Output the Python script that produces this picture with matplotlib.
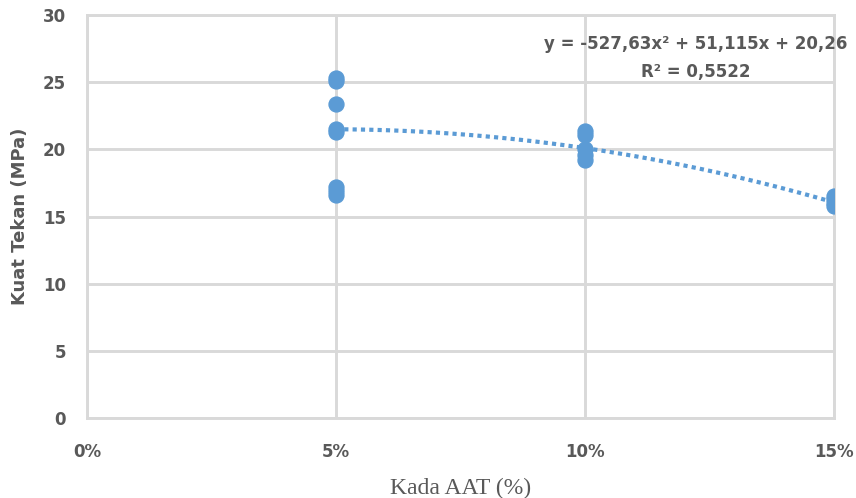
import numpy as np
import matplotlib.pyplot as plt

# data
x_5 = [0.05] * 8
y_5 = [25.3, 25.1, 23.4, 21.5, 21.3, 17.2, 16.9, 16.6]
x_10 = [0.10] * 5
y_10 = [21.4, 21.1, 20.0, 19.6, 19.2]
x_15 = [0.15] * 4
y_15 = [16.5, 16.3, 16.0, 15.8]

coef = [-527.63, 51.115, 20.26]
x_ticks = [0, 0.05, 0.10, 0.15]
x_ticklabels = ['0%', '5%', '10%', '15%']
y_ticks = [0, 5, 10, 15, 20, 25, 30]
y_ticklabels = ['0', '5', '10', '15', '20', '25', '30']

xs = np.array(x_5 + x_10 + x_15)
ys = np.array(y_5 + y_10 + y_15)

fig = plt.figure(figsize=(8.56, 4.98), dpi=100)
ax = fig.add_axes([0.1016, 0.1606, 0.8725, 0.8092])

grid_c = '#d9d9d9'
ax.set_axisbelow(True)
ax.grid(True, color=grid_c, linewidth=2.1)
for s in ax.spines.values():
    s.set_color(grid_c)
    s.set_linewidth(2.1)

ax.scatter(xs, ys, s=115, color='#5b9bd5', zorder=3)

xt = np.linspace(0.05, 0.15, 100)
yt = np.polyval(coef, xt)
ax.plot(xt, yt, color='#5b9bd5', linestyle=(0, (1, 1)), linewidth=3, zorder=2)

ax.set_xlim(0, 0.15)
ax.set_ylim(0, 30)
ax.set_xticks(x_ticks)
ax.set_xticklabels(x_ticklabels)
ax.set_yticks(y_ticks)
ax.set_yticklabels(y_ticklabels)
ax.tick_params(axis='x', length=0, labelsize=12, colors='#595959', pad=18)
ax.tick_params(axis='y', length=0, labelsize=12, colors='#595959', pad=15)
for lab in ax.get_xticklabels() + ax.get_yticklabels():
    lab.set_fontweight('bold')

ax.text(0.1222, 26.8, 'y = -527,63x² + 51,115x + 20,26\nR² = 0,5522',
        ha='center', va='center', fontsize=12, fontweight='bold',
        color='#595959', linespacing=1.65)

ax.set_xlabel('Kada AAT (%)', fontsize=17, family='Liberation Serif',
              color='#595959', labelpad=12)
ax.set_ylabel('Kuat Tekan (MPa)', fontsize=13, fontweight='bold',
              color='#595959', labelpad=10)

fig.savefig('out.png', dpi=100)
